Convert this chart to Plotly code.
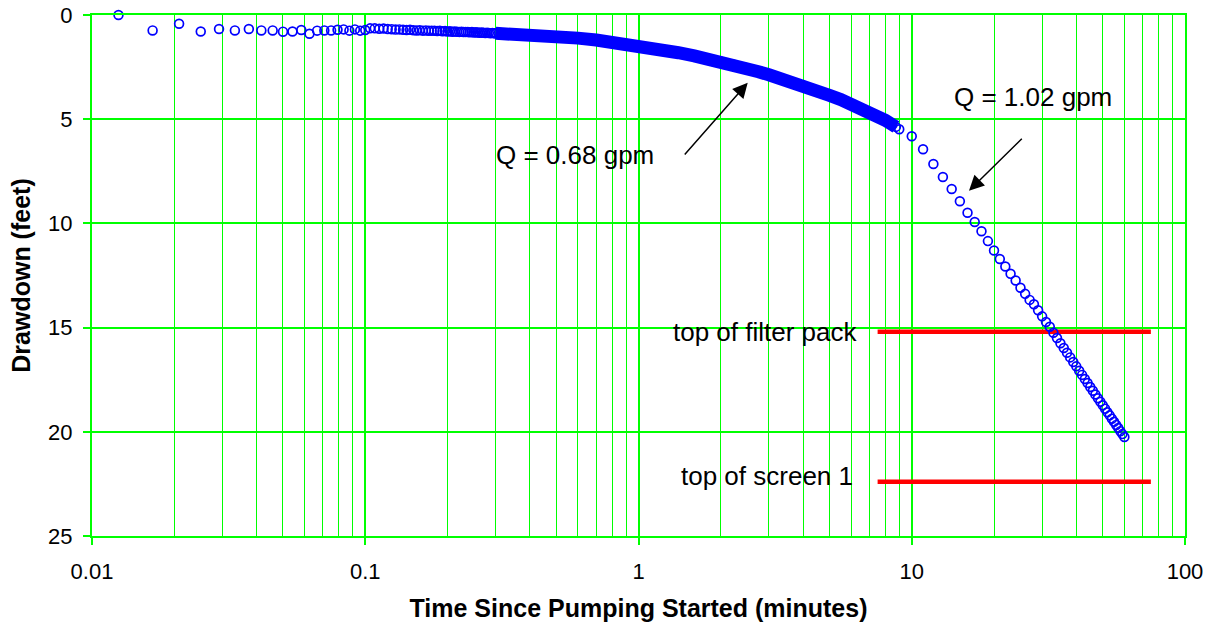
import plotly.graph_objects as go
import numpy as np

# ---------------- data ----------------
# Early logger readings, elapsed time in seconds (0.25 s interval), Q = 0.68 gpm
early_time_sec = [0.75, 1.0, 1.25, 1.5, 1.75, 2.0, 2.25, 2.5, 2.75, 3.0,
                  3.25, 3.5, 3.75, 4.0, 4.25, 4.5, 4.75, 5.0, 5.25, 5.5,
                  5.75, 6.0, 6.25, 6.5, 6.75, 7.0, 7.25, 7.5, 7.75, 8.0,
                  8.25, 8.5, 8.75, 9.0, 9.25, 9.5, 9.75, 10.0, 10.25, 10.5,
                  10.75, 11.0, 11.25, 11.5, 11.75, 12.0, 12.25, 12.5, 12.75, 13.0,
                  13.25, 13.5, 13.75, 14.0, 14.25, 14.5, 14.75, 15.0, 15.25, 15.5,
                  15.75, 16.0, 16.25, 16.5, 16.75, 17.0, 17.25, 17.5, 17.75, 18.0]
early_drawdown = [0.00, 0.74, 0.42, 0.79, 0.67, 0.74, 0.67, 0.74, 0.74, 0.80,
                  0.79, 0.72, 0.90, 0.75, 0.74, 0.74, 0.71, 0.69, 0.75, 0.69,
                  0.75, 0.72, 0.64, 0.64, 0.66, 0.65, 0.67, 0.68, 0.70, 0.69,
                  0.71, 0.72, 0.71, 0.73, 0.74, 0.73, 0.75, 0.74, 0.76, 0.75,
                  0.76, 0.77, 0.76, 0.78, 0.77, 0.79, 0.78, 0.80, 0.79, 0.80,
                  0.81, 0.80, 0.82, 0.81, 0.82, 0.83, 0.82, 0.84, 0.83, 0.84,
                  0.85, 0.84, 0.85, 0.86, 0.85, 0.86, 0.87, 0.86, 0.87, 0.88]

# Dense part of the Q = 0.68 gpm record (minutes, feet)
dense_time_min = [0.3, 0.35, 0.4, 0.45, 0.5, 0.6, 0.7, 0.8, 0.9, 1.0,
                  1.1, 1.25, 1.4, 1.6, 1.8, 2.0, 2.25, 2.5, 2.75, 3.0,
                  3.5, 4.0, 4.5, 5.0, 5.5, 6.0, 6.5, 7.0, 7.5, 8.0,
                  8.5, 8.75, 9.0]
dense_drawdown = [0.88, 0.91, 0.95, 0.99, 1.03, 1.11, 1.20, 1.29, 1.38, 1.48,
                  1.57, 1.70, 1.81, 1.96, 2.10, 2.23, 2.40, 2.56, 2.72, 2.87,
                  3.13, 3.38, 3.63, 3.86, 4.06, 4.26, 4.47, 4.67, 4.86, 5.05,
                  5.27, 5.37, 5.48]

# Q = 1.02 gpm record, 1-minute readings (minutes, feet)
late_time_min = [10, 11, 12, 13, 14, 15, 16, 17, 18, 19,
                 20, 21, 22, 23, 24, 25, 26, 27, 28, 29,
                 30, 31, 32, 33, 34, 35, 36, 37, 38, 39,
                 40, 41, 42, 43, 44, 45, 46, 47, 48, 49,
                 50, 51, 52, 53, 54, 55, 56, 57, 58, 59, 60]
late_drawdown = [5.82, 6.44, 7.15, 7.77, 8.35, 8.94, 9.49, 9.93, 10.38, 10.85,
                 11.30, 11.71, 12.07, 12.42, 12.74, 13.09, 13.38, 13.67, 13.88, 14.17,
                 14.46, 14.73, 14.96, 15.25, 15.50, 15.75, 15.98, 16.21, 16.43, 16.65,
                 16.86, 17.07, 17.27, 17.47, 17.66, 17.85, 18.03, 18.21, 18.39, 18.56,
                 18.73, 18.89, 19.06, 19.21, 19.37, 19.52, 19.67, 19.82, 19.97, 20.11, 20.25]

# Reference depths (feet) and the time span of their marker lines (minutes)
level_names = ["top of filter pack", "top of screen 1"]
level_depths = [15.2, 22.4]
level_time_span = [7.5, 75]

x_tick_vals = [0.01, 0.1, 1, 10, 100]
x_tick_text = ["0.01", "0.1", "1", "10", "100"]
y_tick_vals = [0, 5, 10, 15, 20, 25]

# ---------------- figure ----------------
GREEN = "#00FF00"
BLUE = "#0000FF"
FONT = "Arial, 'Liberation Sans', sans-serif"

fig = go.Figure()

# red reference lines
for d in level_depths:
    fig.add_trace(go.Scatter(x=level_time_span, y=[d, d], mode="lines",
                             line=dict(color="#FF0000", width=4.5),
                             hoverinfo="skip", showlegend=False))

marker_style = dict(symbol="circle", size=8.8, color="rgba(0,0,0,0)",
                    line=dict(color=BLUE, width=1.7))

early_t = np.array(early_time_sec) / 60.0
dense_t = np.array(dense_time_min)
dense_s = np.array(dense_drawdown)

# solid band of overlapping readings in the dense part
band_mask = dense_t <= 8.75
fig.add_trace(go.Scatter(x=dense_t[band_mask], y=dense_s[band_mask], mode="lines",
                         line=dict(color=BLUE, width=13),
                         hoverinfo="skip", showlegend=False))

fig.add_trace(go.Scatter(x=np.concatenate([early_t, dense_t]),
                         y=np.concatenate([early_drawdown, dense_s]),
                         mode="markers", marker=marker_style, cliponaxis=False,
                         showlegend=False))
fig.add_trace(go.Scatter(x=late_time_min, y=late_drawdown,
                         mode="markers", marker=marker_style, cliponaxis=False,
                         showlegend=False))

# white label boxes (paper coords), drawn over the grid
boxes = [(0.355, 0.529, 0.660, 0.765),
         (0.784, 0.964, 0.765, 0.875),
         (0.527, 0.717, 0.321, 0.421),
         (0.527, 0.717, 0.048, 0.150)]
for x0, x1, y0, y1 in boxes:
    fig.add_shape(type="rect", xref="paper", yref="paper", x0=x0, x1=x1, y0=y0, y1=y1,
                  fillcolor="white", line=dict(width=0), layer="between")

label_font = dict(family=FONT, size=26, color="black")
labels = [("Q = 0.68 gpm", 0.442, 0.731),
          ("Q = 1.02 gpm", 0.861, 0.842),
          (level_names[0], 0.616, 0.391),
          (level_names[1], 0.618, 0.1145)]
for txt, xp, yp in labels:
    fig.add_annotation(text=txt, xref="paper", yref="paper", x=xp, y=yp,
                       showarrow=False, font=label_font,
                       xanchor="center", yanchor="middle")

# arrows (log10 x units for annotations on log axis)
arrows = [((np.log10(2.51), 3.25), (np.log10(1.46), 6.76)),
          ((np.log10(16.2), 8.43), (np.log10(25.6), 5.87))]
for (hx, hy), (tx, ty) in arrows:
    fig.add_annotation(x=hx, y=hy, ax=tx, ay=ty, xref="x", yref="y",
                       axref="x", ayref="y", text="", showarrow=True,
                       arrowhead=2, arrowsize=2, arrowwidth=1.5, arrowcolor="black")

minor_vals = [m * 10.0 ** e for e in range(-2, 2) for m in range(2, 10)]

fig.update_xaxes(type="log", range=[-2, 2], automargin=False,
                 tickvals=x_tick_vals, ticktext=x_tick_text,
                 showgrid=True, gridcolor=GREEN, gridwidth=2,
                 showline=True, linecolor=GREEN, linewidth=2, mirror=True,
                 ticks="outside", ticklen=7, tickcolor=GREEN, tickwidth=1.5,
                 ticklabelstandoff=8, ticklabeloverflow="allow",
                 tickfont=dict(family=FONT, size=22, color="black"),
                 minor=dict(tickvals=minor_vals, showgrid=True, gridcolor=GREEN,
                            gridwidth=1, ticks=""),
                 zeroline=False,
                 title=dict(text="<b>Time Since Pumping Started (minutes)</b>",
                            font=dict(family=FONT, size=25, color="black"), standoff=16))
fig.update_yaxes(range=[25, 0], tickvals=y_tick_vals, automargin=False,
                 showgrid=True, gridcolor=GREEN, gridwidth=1.5,
                 showline=True, linecolor=GREEN, linewidth=2, mirror=True,
                 ticks="outside", ticklen=7, tickcolor=GREEN, tickwidth=1.5,
                 ticklabelstandoff=6, ticklabeloverflow="allow",
                 tickfont=dict(family=FONT, size=22, color="black"),
                 zeroline=False,
                 title=dict(text="<b>Drawdown (feet)</b>",
                            font=dict(family=FONT, size=25, color="black"), standoff=10))

fig.update_layout(width=1213, height=630,
                  margin=dict(l=92, r=28, t=15, b=94),
                  plot_bgcolor="white", paper_bgcolor="white",
                  showlegend=False)

# remove the browser's default 8 px body margin so the figure fills the window
fig.write_html("out.html", config={"displayModeBar": False},
               post_script="document.body.style.margin='0px';")
